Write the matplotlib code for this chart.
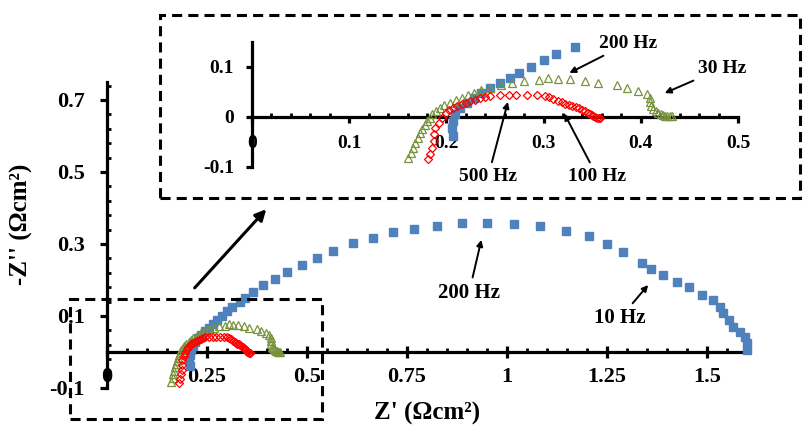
import matplotlib
matplotlib.use("Agg")
import matplotlib.pyplot as plt
from matplotlib.patches import Rectangle
from matplotlib.ticker import MultipleLocator, FuncFormatter

plt.rcParams['font.family'] = ['Liberation Serif', 'DejaVu Serif']
plt.rcParams['font.weight'] = 'bold'

# ---- data (Z', -Z'') in ohm cm2 ----
blue_x = [0.207, 0.206, 0.207, 0.209, 0.214, 0.221, 0.228, 0.236, 0.245, 0.255,
          0.265, 0.275, 0.287, 0.300, 0.313, 0.332, 0.345, 0.366, 0.391, 0.420,
          0.449, 0.487, 0.524, 0.566, 0.616, 0.664, 0.714, 0.768, 0.824, 0.887,
          0.951, 1.017, 1.083, 1.148, 1.204, 1.251, 1.289, 1.337, 1.360, 1.391,
          1.424, 1.455, 1.488, 1.514, 1.533, 1.541, 1.554, 1.566, 1.583, 1.595,
          1.599, 1.601]
blue_y = [-0.038, -0.022, -0.009, 0.005, 0.018, 0.028, 0.038, 0.048, 0.057, 0.067,
          0.077, 0.088, 0.100, 0.113, 0.125, 0.139, 0.149, 0.167, 0.186, 0.204,
          0.222, 0.241, 0.260, 0.280, 0.302, 0.318, 0.332, 0.343, 0.351, 0.357,
          0.357, 0.356, 0.349, 0.337, 0.322, 0.301, 0.278, 0.248, 0.230, 0.213,
          0.194, 0.180, 0.158, 0.144, 0.126, 0.107, 0.089, 0.070, 0.056, 0.043,
          0.024, 0.006]

green_x = [0.161, 0.164, 0.166, 0.168, 0.171, 0.173, 0.175, 0.178, 0.180, 0.183,
           0.185, 0.189, 0.193, 0.198, 0.204, 0.210, 0.216, 0.222, 0.228, 0.236,
           0.245, 0.256, 0.268, 0.280, 0.295, 0.305, 0.315, 0.327, 0.343, 0.356,
           0.376, 0.386, 0.397, 0.406, 0.409, 0.409, 0.411, 0.413, 0.416, 0.418,
           0.421, 0.423, 0.425, 0.427, 0.430, 0.432]
green_y = [-0.082, -0.072, -0.062, -0.052, -0.042, -0.033, -0.025, -0.017, -0.009, -0.002,
           0.005, 0.012, 0.018, 0.023, 0.028, 0.033, 0.038, 0.043, 0.048, 0.053,
           0.058, 0.063, 0.068, 0.071, 0.073, 0.077, 0.075, 0.075, 0.071, 0.068,
           0.063, 0.057, 0.052, 0.046, 0.038, 0.030, 0.022, 0.015, 0.011, 0.008,
           0.006, 0.003, 0.002, 0.001, 0.001, 0.001]

red_x = [0.181, 0.183, 0.185, 0.187, 0.187, 0.188, 0.192, 0.195, 0.200, 0.203,
         0.207, 0.211, 0.216, 0.220, 0.224, 0.229, 0.235, 0.240, 0.245, 0.255,
         0.264, 0.272, 0.283, 0.293, 0.301, 0.306, 0.310, 0.315, 0.319, 0.322,
         0.326, 0.329, 0.333, 0.336, 0.340, 0.343, 0.346, 0.348, 0.350, 0.351,
         0.353, 0.355, 0.357, 0.358]
red_y = [-0.085, -0.075, -0.062, -0.049, -0.035, -0.022, -0.012, -0.002, 0.008, 0.013,
         0.017, 0.021, 0.025, 0.028, 0.031, 0.034, 0.037, 0.039, 0.041, 0.043,
         0.043, 0.043, 0.043, 0.043, 0.041, 0.039, 0.036, 0.031, 0.029, 0.026,
         0.023, 0.021, 0.019, 0.017, 0.014, 0.011, 0.008, 0.006, 0.003, 0.001,
         0.000, -0.002, -0.002, -0.003]

c_blue = "#4F81BD"
c_green = "#77933C"
c_red = "#FF0000"

fmt = FuncFormatter(lambda v, p: "{:g}".format(round(v, 3)))


def inside(xs, ys, xmax, ymax):
    # like excel: points outside the plot area are simply not drawn
    pts = [(x, y) for x, y in zip(xs, ys) if x <= xmax and y <= ymax]
    return [p[0] for p in pts], [p[1] for p in pts]


def draw_series(a, ms, xmax, ymax):
    bx, by = inside(blue_x, blue_y, xmax, ymax)
    gx, gy = inside(green_x, green_y, xmax, ymax)
    rx, ry = inside(red_x, red_y, xmax, ymax)
    a.plot(bx, by, ls="none", marker="s", ms=ms, color=c_blue, clip_on=False, zorder=3)
    a.plot(gx, gy, ls="none", marker="^", ms=ms - 0.5, mfc="none", mec=c_green,
           mew=0.9, clip_on=False, zorder=4)
    a.plot(rx, ry, ls="none", marker="D", ms=ms - 1.6, mfc="none", mec=c_red,
           mew=0.9, clip_on=False, zorder=5)


def style_axes(a, lw):
    for s in ["top", "right"]:
        a.spines[s].set_visible(False)
    a.spines["left"].set_position(("data", 0))
    a.spines["bottom"].set_position(("data", 0))
    a.spines["left"].set_linewidth(lw)
    a.spines["bottom"].set_linewidth(lw)
    a.patch.set_visible(False)
    a.xaxis.set_major_formatter(fmt)
    a.yaxis.set_major_formatter(fmt)


fig = plt.figure(figsize=(8.1, 4.38), dpi=100)

##########################
# MAIN PLOT
##########################
ax = fig.add_axes([0.1321, 0.1142, 0.7901, 0.6986])
draw_series(ax, 6, 1.65, 0.75)
ax.set_xlim(0, 1.6)
ax.set_ylim(-0.1, 0.75)
style_axes(ax, 2.3)
ax.xaxis.set_major_locator(MultipleLocator(0.25))
ax.xaxis.set_minor_locator(MultipleLocator(0.05))
ax.yaxis.set_major_locator(MultipleLocator(0.2, offset=-0.1))
ax.yaxis.set_minor_locator(MultipleLocator(0.04, offset=-0.1))
ax.tick_params(axis="x", which="major", direction="inout", length=8, width=2.3,
               labelsize=16, pad=7)
ax.tick_params(axis="y", which="major", direction="out", length=5, width=2.3,
               labelsize=16, pad=11)
ax.tick_params(which="minor", direction="in", length=3, width=2)

ax.set_xlabel("Z' (Ωcm²)", fontsize=18, fontweight="bold")
ax.xaxis.label.set_va("center")
ax.xaxis.set_label_coords(0.5, -0.082)
ax.set_ylabel("-Z'' (Ωcm²)", fontsize=18, fontweight="bold")
ax.yaxis.label.set_va("center")
ax.yaxis.set_label_coords(-0.133, 0.536)

arr = dict(arrowstyle="-|>", color="black", lw=1.4, mutation_scale=9)
ax.annotate("200 Hz", xy=(0.9375, 0.319), xytext=(0.905, 0.164), ha="center", va="center",
            fontsize=15, fontweight="bold", arrowprops=arr)
ax.annotate("10 Hz", xy=(1.3575, 0.192), xytext=(1.2825, 0.094), ha="center", va="center",
            fontsize=15, fontweight="bold", arrowprops=arr)

# zoom box on the main plot
ax.add_patch(Rectangle((-0.0925, -0.186), 0.63, 0.333, fill=False, ec="black", lw=2.2,
                       ls=(0, (3.3, 2)), clip_on=False, zorder=6))

##########################
# INSET
##########################
ins = fig.add_axes([0.3111, 0.6194, 0.6, 0.2854])
draw_series(ins, 6, 0.5, 0.145)
ins.set_xlim(0, 0.5)
ins.set_ylim(-0.1, 0.15)
style_axes(ins, 2.3)
ins.xaxis.set_major_locator(MultipleLocator(0.1))
ins.xaxis.set_minor_locator(MultipleLocator(0.02))
ins.yaxis.set_major_locator(MultipleLocator(0.1))
ins.tick_params(which="major", direction="out", length=4, width=2.3, labelsize=14, pad=9)
ins.tick_params(axis="x", which="minor", direction="in", length=3, width=2)

ins.annotate("200 Hz", xy=(0.324, 0.085), xytext=(0.387, 0.147), ha="center", va="center",
             fontsize=14, fontweight="bold", arrowprops=arr)
ins.annotate("30 Hz", xy=(0.422, 0.045), xytext=(0.4835, 0.097), ha="center", va="center",
             fontsize=14, fontweight="bold", arrowprops=arr)
ins.annotate("500 Hz", xy=(0.264, 0.035), xytext=(0.243, -0.119), ha="center", va="center",
             fontsize=14, fontweight="bold", arrowprops=arr)
ins.annotate("100 Hz", xy=(0.32, 0.011), xytext=(0.355, -0.119), ha="center", va="center",
             fontsize=14, fontweight="bold", arrowprops=arr)

# dashed frame around the inset and the arrow pointing to it
fig.add_artist(Rectangle((160 / 810, 1 - 198 / 438), 640 / 810, 183 / 438, fill=False,
                         ec="black", lw=2.2, ls=(0, (3.3, 2)), transform=fig.transFigure))
ax.annotate("", xy=(0.331, 0.527), xytext=(0.238, 0.338), xycoords="figure fraction",
            textcoords="figure fraction",
            arrowprops=dict(arrowstyle="-|>", color="black", lw=2.2, mutation_scale=16))

fig.savefig("out.png", dpi=100)
